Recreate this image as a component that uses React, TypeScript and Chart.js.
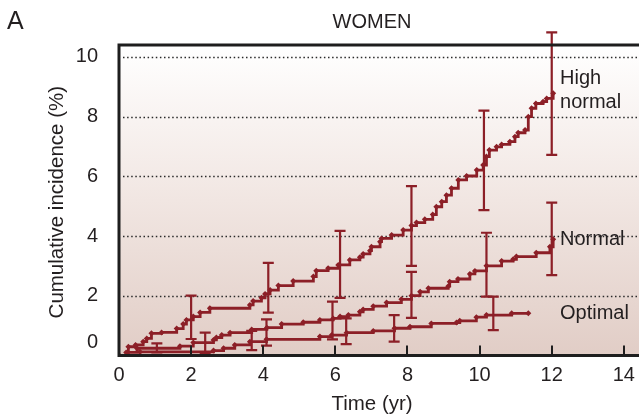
import React, { useEffect, useRef } from "react";
import { Chart, registerables } from "chart.js";

Chart.register(...registerables);

// ---- data ----
const highNormalT = [0, 0.26, 0.46, 0.67, 0.77, 0.9, 1.18, 1.6, 1.78, 1.87, 2.06, 2.25, 2.52, 3.63, 3.72, 3.95, 4.05, 4.19, 4.42, 4.83, 5.39, 5.47, 5.8, 6.08, 6.4, 6.68, 6.77, 6.96, 7.0, 7.24, 7.28, 7.56, 7.88, 8.11, 8.25, 8.48, 8.7, 8.8, 8.95, 9.08, 9.22, 9.41, 9.64, 9.92, 10.1, 10.19, 10.27, 10.47, 10.61, 10.84, 10.98, 11.07, 11.26, 11.35, 11.44, 11.56, 11.76, 11.86, 12.04];
const highNormalV = [0, 0.29, 0.35, 0.46, 0.57, 0.74, 0.77, 0.9, 1.05, 1.19, 1.3, 1.44, 1.58, 1.69, 1.82, 1.93, 2.06, 2.19, 2.34, 2.49, 2.64, 2.84, 2.92, 3.03, 3.2, 3.29, 3.4, 3.51, 3.64, 3.81, 3.92, 4.03, 4.2, 4.35, 4.45, 4.56, 4.72, 4.98, 5.15, 5.37, 5.6, 5.88, 6.01, 6.21, 6.38, 6.66, 6.88, 6.99, 7.07, 7.16, 7.33, 7.46, 7.55, 8.0, 8.28, 8.44, 8.5, 8.61, 8.78];

const normalT = [0, 0.2, 0.5, 1.69, 2.06, 2.62, 2.7, 2.85, 3.08, 3.68, 4.1, 4.51, 5.11, 5.57, 5.94, 6.13, 6.36, 6.68, 6.77, 7.05, 7.42, 7.83, 8.11, 8.35, 8.58, 9.13, 9.17, 9.4, 9.73, 9.87, 10.19, 10.61, 10.93, 11.02, 11.57, 11.95, 12.04];
const normalV = [0, 0.1, 0.24, 0.31, 0.43, 0.52, 0.6, 0.68, 0.76, 0.87, 0.93, 1.05, 1.11, 1.19, 1.24, 1.3, 1.35, 1.46, 1.54, 1.65, 1.77, 1.88, 2.0, 2.13, 2.25, 2.32, 2.47, 2.56, 2.73, 2.83, 3.0, 3.16, 3.22, 3.31, 3.44, 3.64, 3.89];

const optimalT = [0, 0.58, 2.62, 2.9, 3.21, 3.63, 4.09, 5.57, 5.9, 6.31, 7.05, 7.64, 8.07, 8.66, 9.36, 9.45, 9.91, 10.19, 10.89, 11.35];
const optimalV = [0, 0.12, 0.16, 0.24, 0.35, 0.46, 0.54, 0.63, 0.68, 0.76, 0.82, 0.91, 0.96, 1.07, 1.1, 1.16, 1.28, 1.35, 1.41, 1.41];

// error bars: time, lower, upper
const highNormalErrT = [2.0, 4.14, 6.13, 8.11, 10.12, 12.0];
const highNormalErrLo = [0.55, 1.43, 1.93, 3.0, 4.87, 6.72];
const highNormalErrHi = [2.0, 3.1, 4.17, 5.67, 8.2, 10.82];

const normalErrT = [2.39, 4.09, 5.92, 8.11, 10.19, 12.0];
const normalErrLo = [0.07, 0.33, 0.54, 1.26, 1.97, 2.69];
const normalErrHi = [0.76, 1.21, 1.8, 2.8, 4.11, 5.12];

const optimalErrT = [1.05, 3.68, 6.3, 7.63, 10.38];
const optimalErrLo = [0.1, 0.18, 0.38, 0.46, 0.85];
const optimalErrHi = [0.4, 0.82, 1.24, 1.35, 1.97];

const xTicks = [0, 2, 4, 6, 8, 10, 12, 14];
const yTicks = [0, 2, 4, 6, 8, 10];
const gridValues = [2, 4, 6, 8, 10];

const seriesLabels = [
  { lines: ["High", "normal"], t: 12.23, v: [9.29, 8.46] },
  { lines: ["Normal"], t: 12.23, v: [3.87] },
  { lines: ["Optimal"], t: 12.23, v: [1.42] },
];

const RED = "#8c1f27";
const TEXT = "#231f20";
const FONT = "'Liberation Sans', Arial, Helvetica, sans-serif";

function toXY(t: number[], v: number[]) {
  return t.map((x, i) => ({ x, y: v[i] }));
}

const decorPlugin = {
  id: "decor",
  beforeDatasetsDraw(chart: any) {
    const { ctx, chartArea: a, scales } = chart;
    const y = scales.y;
    ctx.save();
    const g = ctx.createLinearGradient(0, a.top, 0, a.bottom);
    g.addColorStop(0, "#ffffff");
    g.addColorStop(0.5, "#f1e6e2");
    g.addColorStop(1, "#e1cdc6");
    ctx.fillStyle = g;
    ctx.fillRect(a.left, a.top, a.right - a.left, a.bottom - a.top);
    ctx.strokeStyle = "#2a2a2a";
    ctx.lineWidth = 1.5;
    ctx.setLineDash([1.5, 2.6]);
    gridValues.forEach((v) => {
      const py = Math.round(y.getPixelForValue(v)) + 0.5;
      ctx.beginPath();
      ctx.moveTo(a.left + 4, py);
      ctx.lineTo(a.right, py);
      ctx.stroke();
    });
    ctx.restore();
  },
  afterDatasetsDraw(chart: any) {
    const { ctx, chartArea: a, scales } = chart;
    const x = scales.x;
    const y = scales.y;
    ctx.save();
    // error bars
    const drawErr = (T: number[], L: number[], H: number[]) => {
      ctx.strokeStyle = RED;
      ctx.lineWidth = 2.2;
      T.forEach((t, i) => {
        const px = x.getPixelForValue(t);
        const p1 = y.getPixelForValue(L[i]);
        const p2 = y.getPixelForValue(H[i]);
        ctx.beginPath();
        ctx.moveTo(px, p1);
        ctx.lineTo(px, p2);
        ctx.moveTo(px - 5.5, p1);
        ctx.lineTo(px + 5.5, p1);
        ctx.moveTo(px - 5.5, p2);
        ctx.lineTo(px + 5.5, p2);
        ctx.stroke();
      });
    };
    drawErr(highNormalErrT, highNormalErrLo, highNormalErrHi);
    drawErr(normalErrT, normalErrLo, normalErrHi);
    drawErr(optimalErrT, optimalErrLo, optimalErrHi);

    // axes box
    ctx.strokeStyle = "#1e1e1e";
    ctx.lineWidth = 3;
    ctx.beginPath();
    ctx.moveTo(a.right, a.top);
    ctx.lineTo(a.left, a.top);
    ctx.lineTo(a.left, a.bottom);
    ctx.lineTo(a.right, a.bottom);
    ctx.stroke();
    // x tick marks (inside)
    ctx.lineWidth = 2;
    xTicks.forEach((t) => {
      if (t === 0) return;
      const px = Math.round(x.getPixelForValue(t));
      ctx.beginPath();
      ctx.moveTo(px, a.bottom);
      ctx.lineTo(px, a.bottom - 10);
      ctx.stroke();
    });

    // tick labels
    ctx.fillStyle = TEXT;
    ctx.font = `20px ${FONT}`;
    ctx.textAlign = "center";
    ctx.textBaseline = "middle";
    xTicks.forEach((t) => {
      ctx.fillText(String(t), x.getPixelForValue(t), a.bottom + 20);
    });
    ctx.textAlign = "right";
    yTicks.forEach((v) => {
      const py = y.getPixelForValue(v) - (v === 0 ? 13 : 0);
      ctx.fillText(String(v), a.left - 21, py);
    });

    // series labels
    ctx.textAlign = "left";
    seriesLabels.forEach((s) => {
      s.lines.forEach((ln, i) => {
        ctx.fillText(ln, x.getPixelForValue(s.t), y.getPixelForValue(s.v[i]));
      });
    });

    // titles
    ctx.font = `20px ${FONT}`;
    ctx.textAlign = "center";
    ctx.fillText("WOMEN", 372, 22);
    ctx.font = `20.5px ${FONT}`;
    ctx.fillText("Time (yr)", 372, a.bottom + 49);
    ctx.save();
    ctx.translate(57, (a.top + a.bottom) / 2 + 2);
    ctx.rotate(-Math.PI / 2);
    ctx.fillText("Cumulative incidence (%)", 0, 0);
    ctx.restore();
    ctx.font = `25px ${FONT}`;
    ctx.textAlign = "left";
    ctx.fillText("A", 7, 22);
    ctx.restore();
  },
};

export default function App() {
  const ref = useRef<HTMLCanvasElement | null>(null);
  useEffect(() => {
    document.body.style.margin = "0";
    const canvas = ref.current!;
    const mk = (t: number[], v: number[], label: string) => ({
      label,
      data: toXY(t, v),
      stepped: true,
      borderColor: RED,
      backgroundColor: RED,
      borderWidth: 2.8,
      pointStyle: "rectRot",
      pointRadius: 3,
      pointBorderWidth: 0,
      pointBackgroundColor: RED,
      fill: false,
    });
    const chart = new Chart(canvas, {
      type: "line",
      data: {
        datasets: [
          mk(highNormalT, highNormalV, "High normal"),
          mk(normalT, normalV, "Normal"),
          mk(optimalT, optimalV, "Optimal"),
        ] as any,
      },
      options: {
        animation: false,
        responsive: false,
        devicePixelRatio: 1,
        layout: { autoPadding: false, padding: { left: 0, right: 0, top: 45, bottom: 0 } },
        plugins: { legend: { display: false }, tooltip: { enabled: false } },
        scales: {
          x: {
            type: "linear",
            min: 0,
            max: 14.42,
            ticks: { display: false },
            grid: { display: false, drawTicks: false },
            border: { display: false },
            afterFit: (s: any) => {
              s.height = 417 - 355.4;
              s.paddingLeft = 0;
              s.paddingRight = 0;
            },
          },
          y: {
            type: "linear",
            min: 0,
            max: 10.4,
            ticks: { display: false },
            grid: { display: false, drawTicks: false },
            border: { display: false },
            afterFit: (s: any) => {
              s.width = 119;
              s.paddingTop = 0;
              s.paddingBottom = 0;
            },
          },
        },
      } as any,
      plugins: [decorPlugin],
    });
    return () => chart.destroy();
  }, []);
  return (
    <div style={{ width: 639, height: 417 }}>
      <canvas ref={ref} width={639} height={417} style={{ display: "block" }} />
    </div>
  );
}
